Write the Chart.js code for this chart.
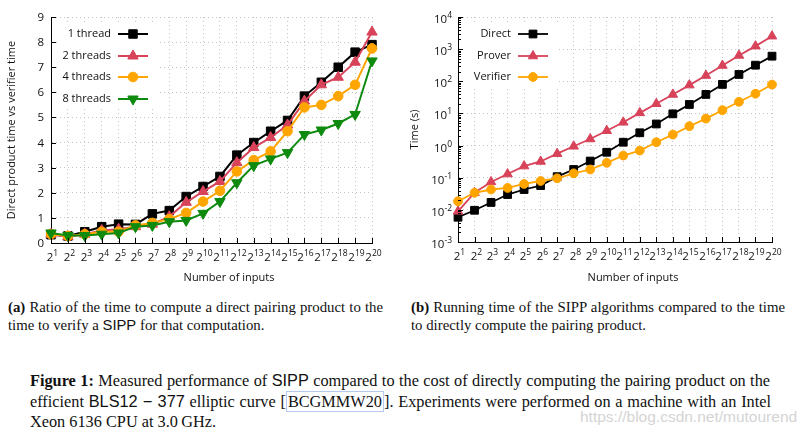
<!DOCTYPE html>
<html><head><meta charset="utf-8">
<script src="https://cdn.jsdelivr.net/npm/chart.js@4.4.0/dist/chart.umd.min.js"></script>
<style>
html,body{margin:0;padding:0;background:#fff;}
body{width:809px;height:433px;position:relative;overflow:hidden;}
canvas{position:absolute;top:0;}
#c1{left:0}
#c2{left:400px}
.cap{position:absolute;font-family:'Liberation Serif','Times New Roman',serif;color:#111;white-space:nowrap;}
.cap div{white-space:nowrap;}
.fit{display:inline-block;}
.sans{font-family:'Liberation Sans',Arial,sans-serif;}
.cite{border:1px solid #b4c8f0;padding:0 1px;}
#wm{position:absolute;left:580px;top:408px;font-family:'Liberation Sans',Arial,sans-serif;font-size:15.5px;color:#d4d4d4;white-space:nowrap;}
</style></head><body>
<canvas id="c1" width="400" height="290"></canvas>
<canvas id="c2" width="409" height="290"></canvas>
<div class="cap" style="left:8px;top:298px;font-size:14.8px;line-height:18px">
<div><span class="fit" data-w="375"><b>(a)</b> Ratio of the time to compute a direct pairing product to the</span></div>
<div>time to verify a <span class="sans">SIPP</span> for that computation.</div>
</div>
<div class="cap" style="left:411px;top:298px;font-size:14.8px;line-height:18px">
<div><span class="fit" data-w="374"><b>(b)</b> Running time of the SIPP algorithms compared to the time</span></div>
<div>to directly compute the pairing product.</div>
</div>
<div class="cap" style="left:30px;top:370px;font-size:16.3px;line-height:20px">
<div><span class="fit" data-w="740"><b>Figure 1:</b> Measured performance of <span class="sans">SIPP</span> compared to the cost of directly computing the pairing product on the</span></div>
<div><span class="fit" data-w="741">efficient <span class="sans">BLS12 − 377</span> elliptic curve [<span class="cite">BCGMMW20</span>]. Experiments were performed on a machine with an Intel</span></div>
<div>Xeon 6136 CPU at 3.0&#8201;GHz.</div>
</div>
<div id="wm">https://blog.csdn.net/mutourend</div>
<script>
// ---------- data ----------
const exponents = [1,2,3,4,5,6,7,8,9,10,11,12,13,14,15,16,17,18,19,20];
const ratioTicks = [0,1,2,3,4,5,6,7,8,9];
const logTickExps = [-3,-2,-1,0,1,2,3,4];

const seriesNamesA = ['1 thread','2 threads','4 threads','8 threads'];
const oneThread   = [0.33,0.28,0.45,0.65,0.75,0.74,1.16,1.29,1.85,2.25,2.65,3.50,4.00,4.45,4.88,5.85,6.40,7.00,7.60,7.90];
const twoThreads  = [0.35,0.25,0.35,0.50,0.55,0.65,0.75,1.05,1.62,2.05,2.45,3.20,3.80,4.20,4.70,5.65,6.30,6.60,7.20,8.40];
const fourThreads = [0.35,0.28,0.35,0.45,0.45,0.70,0.80,0.95,1.20,1.65,2.08,2.85,3.30,3.65,4.45,5.40,5.50,5.85,6.30,7.75];
const eightThreads= [0.40,0.30,0.30,0.35,0.40,0.65,0.70,0.85,0.90,1.18,1.65,2.40,3.08,3.35,3.60,4.32,4.50,4.76,5.12,7.25];

const seriesNamesB = ['Direct','Prover','Verifier'];
const directTime   = [0.0059,0.0097,0.017,0.030,0.043,0.057,0.108,0.18,0.33,0.62,1.27,2.5,4.7,9.7,19,39,80,163,317,605];
const proverTime   = [0.009,0.034,0.074,0.13,0.23,0.32,0.56,0.95,1.6,2.9,5.3,10.4,20,39,76,151,310,635,1240,2530];
const verifierTime = [0.0185,0.034,0.043,0.048,0.064,0.079,0.096,0.137,0.18,0.29,0.49,0.70,1.27,2.2,4.0,6.9,12.6,23,41,79];

const xTitle = 'Number of inputs';
const yTitleA = 'Direct product time vs verifier time';
const yTitleB = 'Time (s)';

// ---------- styles ----------
const BLACK='#000000', RED='#d8435a', ORANGE='#ffa500', GREEN='#0e8a0e';
const FONT='"Open Sans","Noto Sans",sans-serif';
const GRID='#c4c4c4';

// fit justified caption lines
document.querySelectorAll('.fit').forEach(el=>{
  const w=el.getBoundingClientRect().width;
  const n=(el.textContent.match(/ /g)||[]).length;
  el.style.wordSpacing=((+el.dataset.w - w)/n)+'px';
});

function ds(label,data,color,style,r,rot,order,lw){
  return {label,data,borderColor:color,backgroundColor:color,pointStyle:style,pointRadius:r,
    pointHoverRadius:r,pointRotation:rot||0,pointBorderWidth:1,borderWidth:lw,tension:0,clip:false,order};
}

function supText(ctx,base,exp,x,y,align){
  ctx.font='11.5px '+FONT; const bw=ctx.measureText(base).width;
  ctx.font='8.5px '+FONT; const sw=ctx.measureText(exp).width;
  const tot=bw+sw; const left= align==='center'? x-tot/2 : x-tot;
  ctx.textAlign='left'; ctx.textBaseline='middle';
  ctx.font='11.5px '+FONT; ctx.fillText(base,left,y);
  ctx.font='8.5px '+FONT; ctx.fillText(exp,left+bw,y-4);
}

function makePlugin(o){
  return {
    id:'deco'+o.id,
    beforeDatasetsDraw(chart){
      const ctx=chart.ctx; ctx.save(); ctx.fillStyle='#fff';
      ctx.fillRect(o.keyBox[0],o.keyBox[1],o.keyBox[2],o.keyBox[3]); ctx.restore();
    },
    afterDraw(chart){
      const ctx=chart.ctx, a=chart.chartArea, xs=chart.scales.x, ys=chart.scales.y;
      ctx.save();
      ctx.strokeStyle='#000'; ctx.lineWidth=1; ctx.fillStyle='#111';
      // x ticks + labels
      exponents.forEach((e,i)=>{
        const px=Math.round(xs.getPixelForValue(i))+0.5;
        ctx.beginPath(); ctx.moveTo(px,a.bottom); ctx.lineTo(px,a.bottom-5); ctx.stroke();
        supText(ctx,'2',String(e),px+1,a.bottom+15,'center');
      });
      // y ticks + labels
      if(o.log){
        logTickExps.forEach((k,j)=>{
          const py=Math.round(ys.getPixelForValue(Math.pow(10,k)))+0.5;
          ctx.beginPath(); ctx.moveTo(a.left,py); ctx.lineTo(a.left+5,py); ctx.stroke();
          supText(ctx,'10',String(k),a.left-6,py+2,'right');
          if(j<logTickExps.length-1){
            for(let m=2;m<10;m++){
              const pm=Math.round(ys.getPixelForValue(m*Math.pow(10,k)))+0.5;
              ctx.beginPath(); ctx.moveTo(a.left,pm); ctx.lineTo(a.left+3,pm); ctx.stroke();
            }
          }
        });
      } else {
        ratioTicks.forEach(v=>{
          const py=Math.round(ys.getPixelForValue(v))+0.5;
          ctx.beginPath(); ctx.moveTo(a.left,py); ctx.lineTo(a.left+5,py); ctx.stroke();
          ctx.font='11.5px '+FONT; ctx.textAlign='right'; ctx.textBaseline='middle';
          ctx.fillText(String(v),a.left-7,py);
        });
      }
      // titles
      ctx.font='11px '+FONT; ctx.textAlign='center'; ctx.textBaseline='middle';
      ctx.fillText(xTitle,o.xTitleX,278);
      ctx.save(); ctx.translate(o.yTitleX,(a.top+a.bottom)/2); ctx.rotate(-Math.PI/2);
      ctx.fillText(o.yTitle,0,0); ctx.restore();
      // legend
      chart.data.datasets.forEach((d,i)=>{
        const y=o.keyRows[i];
        ctx.font='11px '+FONT; ctx.textAlign='right'; ctx.textBaseline='middle'; ctx.fillStyle='#111';
        ctx.fillText(d.label,o.keyTextX,y);
        ctx.strokeStyle=d.borderColor; ctx.lineWidth=d.borderWidth;
        ctx.beginPath(); ctx.moveTo(o.keyLine[0],y); ctx.lineTo(o.keyLine[1],y); ctx.stroke();
        ctx.fillStyle=d.backgroundColor; ctx.lineWidth=1;
        Chart.helpers.drawPoint(ctx,{pointStyle:d.pointStyle,rotation:d.pointRotation,radius:d.pointRadius,borderWidth:1},
          (o.keyLine[0]+o.keyLine[1])/2,y);
      });
      ctx.restore();
    }
  };
}

function axisX(h){
  return {type:'category',offset:false,afterFit:s=>{s.height=h;},
    grid:{color:GRID,lineWidth:1,drawTicks:false},border:{display:true,color:'#000',width:1,dash:[1,3]},
    ticks:{display:false}};
}

new Chart(document.getElementById('c1'),{
  type:'line',
  data:{labels:exponents,datasets:[
    ds(seriesNamesA[0],oneThread,BLACK,'rect',6,0,4,2),
    ds(seriesNamesA[1],twoThreads,RED,'triangle',6,0,3,2),
    ds(seriesNamesA[2],fourThreads,ORANGE,'circle',4.8,0,2,2),
    ds(seriesNamesA[3],eightThreads,GREEN,'triangle',6,180,1,2)
  ]},
  options:{responsive:false,animation:false,devicePixelRatio:1,
    layout:{padding:{left:0,right:28,top:17,bottom:0}},
    plugins:{legend:{display:false},tooltip:{enabled:false}},
    scales:{
      x:axisX(47),
      y:{type:'linear',min:0,max:9,afterFit:s=>{s.width=51;},
        ticks:{display:false,stepSize:1},
        grid:{color:GRID,lineWidth:1,drawTicks:false},border:{display:true,color:'#000',width:1,dash:[1,3]}}
    }},
  plugins:[makePlugin({id:1,log:false,xTitleX:229,yTitleX:12,yTitle:yTitleA,
    keyBox:[58,24,100,84],keyRows:[34,56,77,99],keyTextX:111,keyLine:[118,148]})]
});

new Chart(document.getElementById('c2'),{
  type:'line',
  data:{labels:exponents,datasets:[
    ds(seriesNamesB[0],directTime,BLACK,'rect',5.5,0,3,1.8),
    ds(seriesNamesB[1],proverTime,RED,'triangle',5.5,0,2,1.8),
    ds(seriesNamesB[2],verifierTime,ORANGE,'circle',4.4,0,1,1.8)
  ]},
  options:{responsive:false,animation:false,devicePixelRatio:1,
    layout:{padding:{left:0,right:37,top:17,bottom:0}},
    plugins:{legend:{display:false},tooltip:{enabled:false}},
    scales:{
      x:axisX(48),
      y:{type:'logarithmic',min:1e-3,max:1e4,afterFit:s=>{s.width=58;},
        afterBuildTicks:s=>{s.ticks=logTickExps.map(k=>({value:Math.pow(10,k)}));},
        ticks:{display:false},
        grid:{color:GRID,lineWidth:1,drawTicks:false},border:{display:true,color:'#000',width:1,dash:[1,3]}}
    }},
  plugins:[makePlugin({id:2,log:true,xTitleX:233,yTitleX:15,yTitle:yTitleB,
    keyBox:[62,24,96,64],keyRows:[34,56,77],keyTextX:111,keyLine:[118,148]})]
});
</script>
</body></html>
